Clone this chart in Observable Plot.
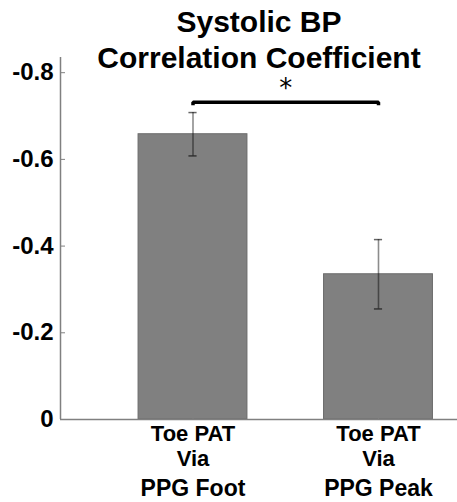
<!DOCTYPE html>
<html>
<head>
<meta charset="utf-8">
<script src="https://cdn.jsdelivr.net/npm/d3@7"></script>
<script src="https://cdn.jsdelivr.net/npm/@observablehq/plot@0.6"></script>
<style>
  html, body { margin: 0; padding: 0; background: #fff; }
  #chart svg { display: block; }
</style>
</head>
<body>
<div id="chart"></div>
<script>
// ---- data ----
const categoryLine1 = ["Toe PAT", "Toe PAT"];
const categoryLine2 = ["Via", "Via"];
const categoryLine3 = ["PPG Foot", "PPG Peak"];
const categoryPos = [1, 2];
const means = [-0.658, -0.335];
const errors = [0.05, 0.08];
const yTicks = [0, -0.2, -0.4, -0.6, -0.8];
const titleText = "Systolic BP\nCorrelation Coefficient";
const bracketX = [1, 1, 2, 2];
const bracketY = [-0.725, -0.732, -0.732, -0.725];
const starX = [1.5];
const starY = [-0.762];

// scale / style constants
const xDomain = [0.2857, 2.4259];
const yDomain = [0, -0.835];
const barHalf = 0.2935;
const capHalf = 0.022;
const xTickLen = 0.0115;   // inward tick length in y units
const yTickLen = 0.027;    // inward tick length in x units

const rows = categoryPos.map((p, i) => ({
  x: p, v: means[i], lo: means[i] + errors[i], hi: means[i] - errors[i]
}));

const font = "'Liberation Sans', Arial, sans-serif";
const axisGray = "#808080";

const chart = Plot.plot({
  width: 457,
  height: 502,
  marginLeft: 60,
  marginRight: 0,
  marginTop: 57,
  marginBottom: 83,
  style: { fontFamily: font, background: "white" },
  x: { type: "linear", domain: xDomain },
  y: { type: "linear", domain: yDomain },
  marks: [
    Plot.rectY(rows, {
      x1: d => d.x - barHalf, x2: d => d.x + barHalf, y1: 0, y2: "v",
      fill: "#808080", stroke: "#6b6b6b", strokeWidth: 1
    }),
    Plot.ruleX(rows, {
      x: "x", y1: "lo", y2: "hi", stroke: "black", strokeOpacity: 0.45, strokeWidth: 1.6
    }),
    Plot.ruleY(rows, {
      y: "lo", x1: d => d.x - capHalf, x2: d => d.x + capHalf,
      stroke: "black", strokeOpacity: 0.6, strokeWidth: 1.5
    }),
    Plot.ruleY(rows, {
      y: "hi", x1: d => d.x - capHalf, x2: d => d.x + capHalf,
      stroke: "black", strokeOpacity: 0.6, strokeWidth: 1.5
    }),
    // axis lines
    Plot.ruleX([xDomain[0]], { stroke: axisGray, strokeWidth: 1.5 }),
    Plot.ruleY([0], { stroke: axisGray, strokeWidth: 1.5 }),
    // inward ticks
    Plot.ruleY(yTicks, { y: d => d, x1: xDomain[0], x2: xDomain[0] + yTickLen, stroke: axisGray, strokeWidth: 1 }),
    Plot.ruleX(categoryPos, { x: d => d, y1: 0, y2: -xTickLen, stroke: axisGray, strokeWidth: 1 }),
    Plot.axisY({
      ticks: yTicks,
      tickFormat: d => d === 0 ? "0" : d.toFixed(1),
      tickSize: 0,
      tickPadding: 7,
      fill: "black",
      fontSize: 24,
      fontWeight: "bold",
      label: null
    }),
    Plot.axisX({
      ticks: categoryPos,
      tickFormat: (d, i) => categoryLine1[i],
      tickSize: 0, tickPadding: 6,
      fill: "black", fontSize: 22, fontWeight: "bold", label: null
    }),
    Plot.axisX({
      ticks: categoryPos,
      tickFormat: (d, i) => categoryLine2[i],
      tickSize: 0, tickPadding: 31,
      fill: "black", fontSize: 22, fontWeight: "bold", label: null
    }),
    Plot.axisX({
      ticks: categoryPos,
      tickFormat: (d, i) => categoryLine3[i],
      tickSize: 0, tickPadding: 60,
      fill: "black", fontSize: 23, fontWeight: "bold", label: null
    }),
    Plot.line(bracketX.map((x, i) => ({x, y: bracketY[i]})), {
      x: "x", y: "y", stroke: "black", strokeWidth: 3.5,
      strokeLinejoin: "miter", strokeLinecap: "butt"
    }),
    Plot.text(starX.map((x, i) => ({x, y: starY[i]})), {
      x: "x", y: "y", text: () => "*", fontSize: 26,
      fontFamily: "'DejaVu Sans', sans-serif", fill: "black"
    }),
    Plot.text([titleText], {
      frameAnchor: "top", lineAnchor: "top", dy: -51,
      fontSize: 30, fontWeight: "bold", lineHeight: 1.2,
      fill: "black", text: d => d
    })
  ]
});

document.getElementById("chart").appendChild(chart);
</script>
</body>
</html>
